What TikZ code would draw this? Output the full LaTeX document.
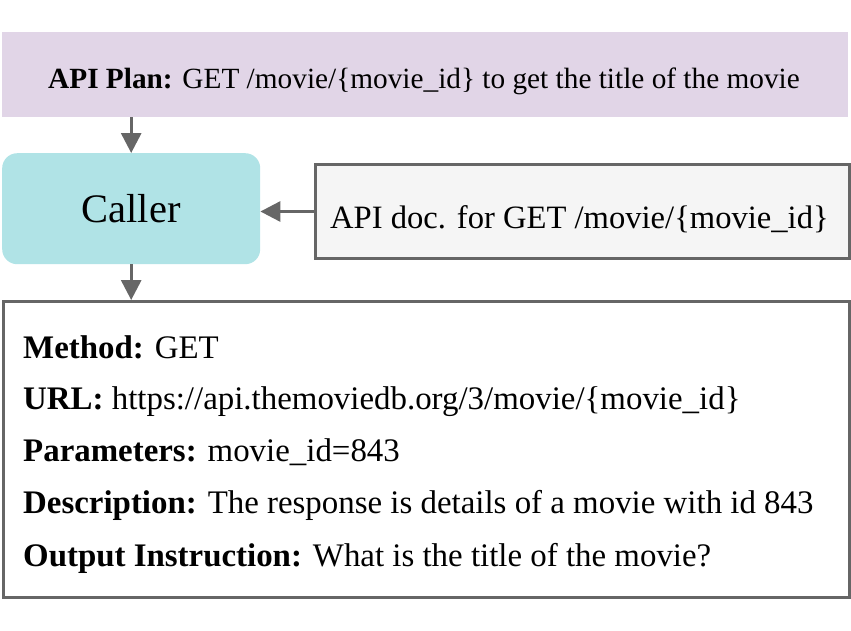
\documentclass[tikz,border=0pt]{standalone}
\usepackage{fontspec}
\setmainfont{Liberation Serif}
\usetikzlibrary{arrows.meta}
\definecolor{planfill}{HTML}{E1D5E7}
\definecolor{callerfill}{HTML}{B0E3E6}
\definecolor{docfill}{HTML}{F5F5F5}
\definecolor{edgegray}{HTML}{666666}
\tikzset{
  planbox/.style={fill=planfill, draw=none, inner sep=0pt, anchor=north west},
  callerbox/.style={fill=callerfill, draw=none, rounded corners=15pt, inner sep=0pt, anchor=north west},
  docbox/.style={fill=docfill, draw=edgegray, line width=3pt, inner sep=0pt, anchor=north west},
  outbox/.style={fill=white, draw=edgegray, line width=3pt, inner sep=0pt, anchor=north west},
  txt/.style={inner sep=0pt, anchor=base west, font=\fontsize{32.9}{39}\selectfont},
  conn/.style={draw=edgegray, line width=3pt, -{Triangle[length=20pt,width=20pt]}},
}
\begin{document}
\begin{tikzpicture}[x=1pt,y=-1pt]
\useasboundingbox (0,0) rectangle (851,630);
\node[planbox, minimum width=846pt, minimum height=85pt] (plan) at (2,32) {};
\node[inner sep=0pt, anchor=base west, font=\fontsize{29.3}{35}\selectfont] (plantxt) at (48,88)
  {\textbf{API Plan:} GET /movie/\{movie\_id\} to get the title of the movie};
\node[callerbox, minimum width=258pt, minimum height=111pt] (caller) at (2,153) {};
\node[inner sep=0pt, font=\fontsize{40.5}{48}\selectfont] (callertxt) at (caller.center) {Caller};
\node[docbox, minimum width=534pt, minimum height=94pt] (doc) at (314,163) {};
\node[txt, font=\fontsize{32.6}{39}\selectfont] (doctxt) at (330,228) {API doc. for GET /movie/\{movie\_id\}};
\node[outbox, minimum width=846pt, minimum height=296pt] (out) at (2,300) {};
\node[txt] (l1) at (23,358) {\textbf{Method:} GET};
\node[txt] (l2) at (23,409) {\textbf{URL:} https://api.themoviedb.org/3/movie/\{movie\_id\}};
\node[txt] (l3) at (23,461) {\textbf{Parameters:} movie\_id=843};
\node[txt] (l4) at (23,513) {\textbf{Description:} The response is details of a movie with id 843};
\node[txt] (l5) at (23,566) {\textbf{Output Instruction:} What is the title of the movie?};
\draw[conn] (plan.south -| caller.north) -- (caller.north);
\draw[conn] (doc.west) -- (caller.east |- doc.west);
\draw[conn] (caller.south) -- (caller.south |- out.north);
\end{tikzpicture}
\end{document}
